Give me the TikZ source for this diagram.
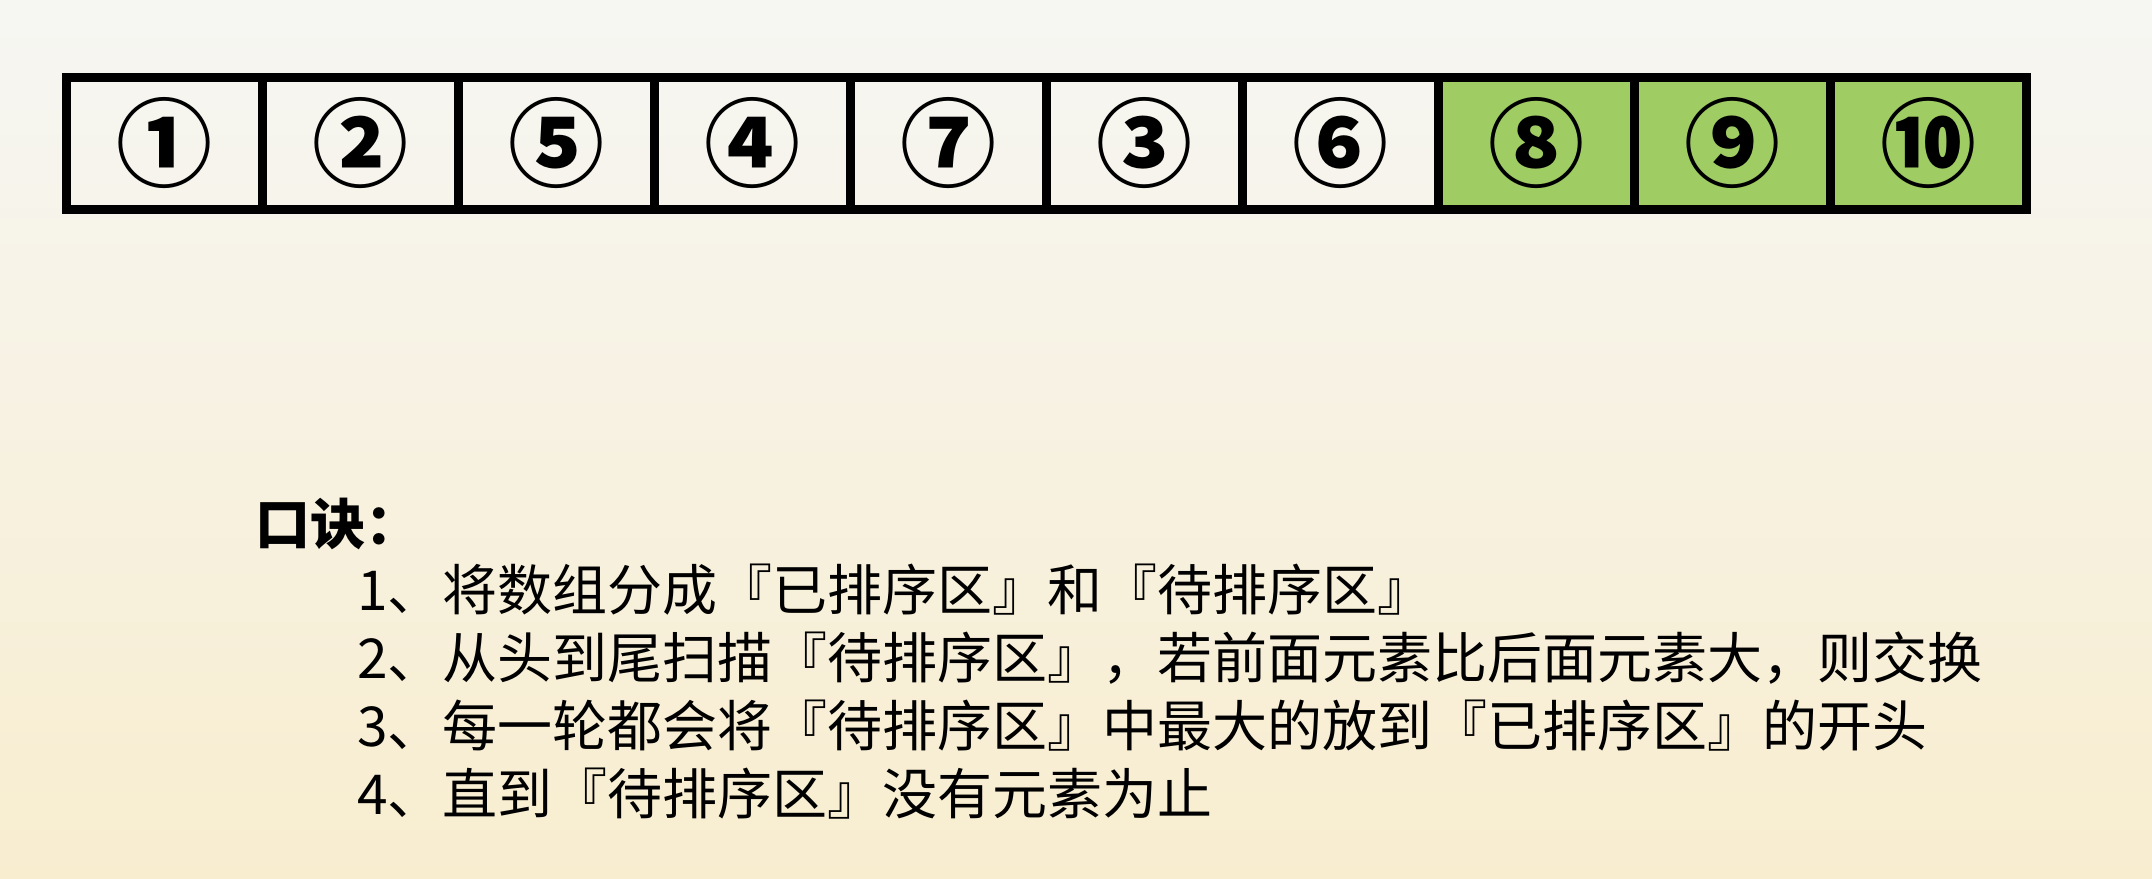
\documentclass[tikz,border=0pt]{standalone}
\usepackage{fontspec}
\newfontfamily\cjk{Noto Sans CJK SC}
\usetikzlibrary{positioning}
\definecolor{sortgreen}{RGB}{160,204,100}
\definecolor{bgtop}{RGB}{246,246,243}
\definecolor{bgbottom}{RGB}{248,237,207}
\tikzset{
  cell/.style={draw=black, line width=4.5pt, minimum width=98pt, minimum height=66pt, inner sep=0pt},
  done/.style={cell, fill=sortgreen},
  num/.style={font=\cjk\bfseries\fontsize{48}{48}\selectfont},
  rule/.style={anchor=west, inner sep=0pt, font=\cjk\fontsize{27.5}{33}\selectfont}
}

\begin{document}
\begin{tikzpicture}[x=0.5pt,y=-0.5pt]
        \shade[top color=bgtop, bottom color=bgbottom] (0,0) rectangle (2152,878);

        % the array, sorted part in green
        \node[cell, num] (c1) at (164,143) {①};
        \node[cell, num] (c2) at (360,143) {②};
        \node[cell, num] (c3) at (556,143) {⑤};
        \node[cell, num] (c4) at (752,143) {④};
        \node[cell, num] (c5) at (948,143) {⑦};
        \node[cell, num] (c6) at (1144,143) {③};
        \node[cell, num] (c7) at (1340,143) {⑥};
        \node[done, num] (c8) at (1536,143) {⑧};
        \node[done, num] (c9) at (1732,143) {⑨};
        \node[done, num] (c10) at (1928,143) {⑩};

        % rules
        \node[rule, font=\cjk\bfseries\fontsize{27.5}{33}\selectfont] (title) at (255,524) {口诀：};
        \node[rule] (rule1) at (357,590) {1、将数组分成『已排序区』和『待排序区』};
        \node[rule] (rule2) at (357,658) {2、从头到尾扫描『待排序区』，若前面元素比后面元素大，则交换};
        \node[rule] (rule3) at (357,726) {3、每一轮都会将『待排序区』中最大的放到『已排序区』的开头};
        \node[rule] (rule4) at (357,794) {4、直到『待排序区』没有元素为止};
    \end{tikzpicture}
\end{document}
